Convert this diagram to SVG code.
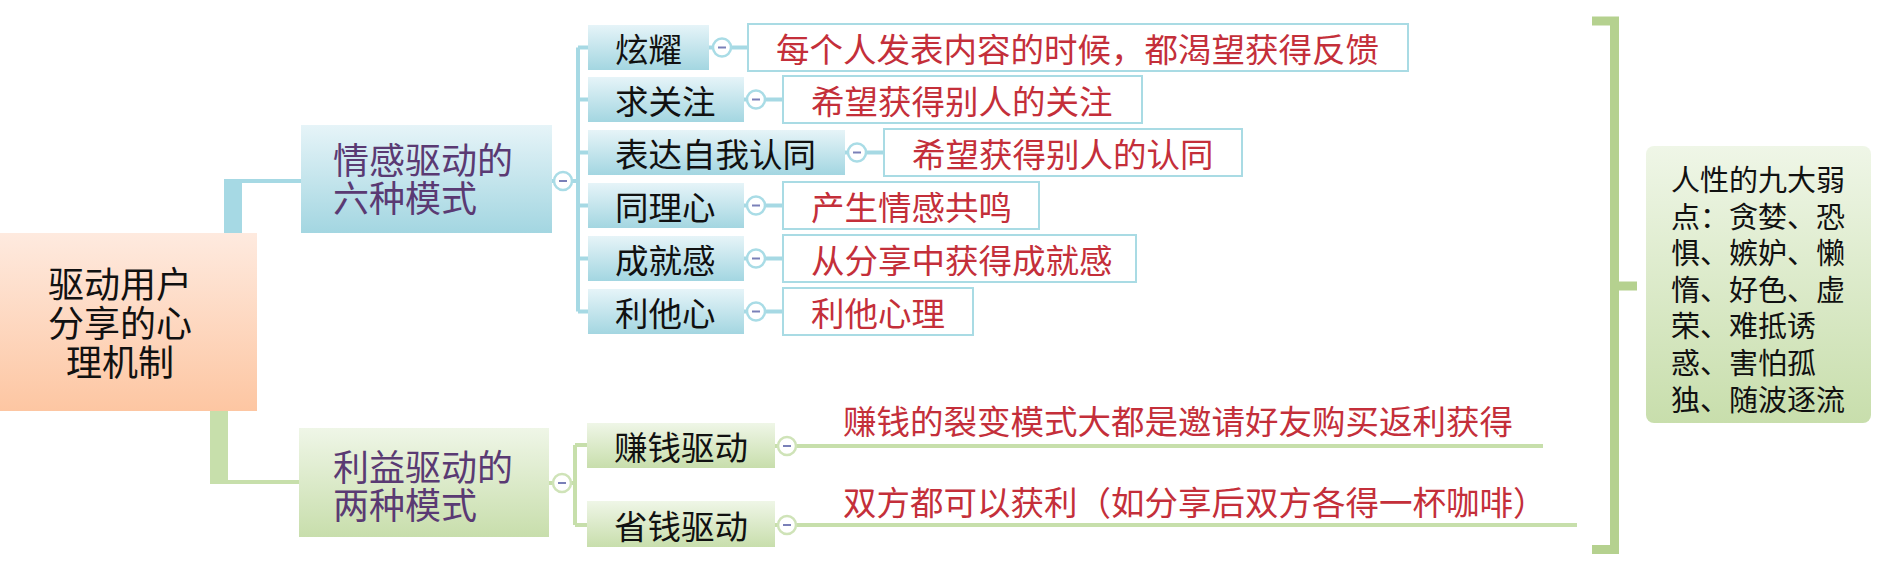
<svg xmlns="http://www.w3.org/2000/svg" width="1882" height="576" viewBox="0 0 1882 576">
<defs>
<linearGradient id="gRoot" x1="0" y1="0" x2="0" y2="1"><stop offset="0" stop-color="#feeadf"/><stop offset="1" stop-color="#fdc6a2"/></linearGradient>
<linearGradient id="gBlue" x1="0" y1="0" x2="0" y2="1"><stop offset="0" stop-color="#e6f4f8"/><stop offset="1" stop-color="#a3d6e1"/></linearGradient>
<linearGradient id="gGreen" x1="0" y1="0" x2="0" y2="1"><stop offset="0" stop-color="#eff6e7"/><stop offset="1" stop-color="#c8deac"/></linearGradient>
<style>
text{font-family:"Noto Sans CJK SC","Noto Sans CJK JP",sans-serif;dominant-baseline:central}
.root{font-size:36px;fill:#111;text-anchor:middle}
.main{font-size:36px;fill:#5a3a73}
.child{font-size:33.5px;fill:#111}
.desc{font-size:33.5px;fill:#c42f3a}
.side{font-size:29px;fill:#111}
.dbox{fill:#fff;stroke:#a9dbe4;stroke-width:2}
.bl{stroke:#a6d9e4;stroke-width:4;fill:none}
.gl{stroke:#c7dfab;stroke-width:4;fill:none}
.cb{fill:#fff;stroke:#a9dce6;stroke-width:2.5}
.cg{fill:#fff;stroke:#cfe3b8;stroke-width:2.5}
.mn{stroke:#7a80b8;stroke-width:2}
</style>
</defs>
<g id="connectors">
<rect x="224" y="179" width="18" height="54" fill="#a6d9e4"/>
<rect x="224" y="179" width="77" height="4" fill="#a6d9e4"/>
<rect x="210" y="411" width="18" height="73" fill="#c7dfab"/>
<rect x="210" y="480" width="89" height="4" fill="#c7dfab"/>
<path class="bl" d="M552,181H578M578,47.5V311.5M578,47.5H588M578,99.5H588M578,152.5H588M578,205.5H588M578,258.5H588M578,311.5H588"/>
<path class="bl" d="M709,47.5H748M744,99.5H783M845,152.5H884M744,205.5H783M744,258.5H783M744,311.5H783"/>
<path class="gl" d="M549,483H575M575,445V525M575,445H587M575,525H587"/>
<path class="gl" d="M775,446H1543M775,525H1577"/>
<path d="M1592,21H1614.5V549.5H1592M1614.5,286H1637" fill="none" stroke="#b5d18f" stroke-width="9"/>
</g>
<g id="n-root">
<rect x="0" y="233" width="257" height="178" fill="url(#gRoot)"/>
<text class="root" x="120" y="282"><tspan x="120" y="282">驱动用户</tspan><tspan x="120" y="321">分享的心</tspan><tspan x="120" y="360">理机制</tspan></text>
</g>
<g id="n-emotion">
<rect x="301" y="125" width="251" height="108" fill="url(#gBlue)"/>
<text class="main" x="333" y="158"><tspan x="333" y="158">情感驱动的</tspan><tspan x="333" y="196">六种模式</tspan></text>
<circle class="cb" cx="563" cy="181" r="9"/><line class="mn" x1="559" y1="181" x2="567" y2="181"/>
</g>
<g id="n-xuanyao">
<rect x="588" y="25" width="121" height="45" fill="url(#gBlue)"/>
<text class="child" x="615" y="47.5">炫耀</text>
<circle class="cb" cx="722" cy="47.5" r="9"/><line class="mn" x1="718" y1="47.5" x2="726" y2="47.5"/>
</g>
<g id="d-xuanyao">
<rect class="dbox" x="748" y="24" width="660" height="47"/>
<text class="desc" x="776" y="47.5">每个人发表内容的时候，都渴望获得反馈</text>
</g>
<g id="n-qiuguanzhu">
<rect x="588" y="77" width="156" height="45" fill="url(#gBlue)"/>
<text class="child" x="615" y="99.5">求关注</text>
<circle class="cb" cx="756" cy="99.5" r="9"/><line class="mn" x1="752" y1="99.5" x2="760" y2="99.5"/>
</g>
<g id="d-qiuguanzhu">
<rect class="dbox" x="783" y="76" width="359" height="47"/>
<text class="desc" x="811" y="99.5">希望获得别人的关注</text>
</g>
<g id="n-biaoda">
<rect x="588" y="130" width="257" height="45" fill="url(#gBlue)"/>
<text class="child" x="615" y="152.5">表达自我认同</text>
<circle class="cb" cx="857" cy="152.5" r="9"/><line class="mn" x1="853" y1="152.5" x2="861" y2="152.5"/>
</g>
<g id="d-biaoda">
<rect class="dbox" x="884" y="129" width="358" height="47"/>
<text class="desc" x="912" y="152.5">希望获得别人的认同</text>
</g>
<g id="n-tonglixin">
<rect x="588" y="183" width="156" height="45" fill="url(#gBlue)"/>
<text class="child" x="615" y="205.5">同理心</text>
<circle class="cb" cx="756" cy="205.5" r="9"/><line class="mn" x1="752" y1="205.5" x2="760" y2="205.5"/>
</g>
<g id="d-tonglixin">
<rect class="dbox" x="783" y="182" width="256" height="47"/>
<text class="desc" x="811" y="205.5">产生情感共鸣</text>
</g>
<g id="n-chengjiugan">
<rect x="588" y="236" width="156" height="45" fill="url(#gBlue)"/>
<text class="child" x="615" y="258.5">成就感</text>
<circle class="cb" cx="756" cy="258.5" r="9"/><line class="mn" x1="752" y1="258.5" x2="760" y2="258.5"/>
</g>
<g id="d-chengjiugan">
<rect class="dbox" x="783" y="235" width="353" height="47"/>
<text class="desc" x="811" y="258.5">从分享中获得成就感</text>
</g>
<g id="n-litaxin">
<rect x="588" y="289" width="156" height="45" fill="url(#gBlue)"/>
<text class="child" x="615" y="311.5">利他心</text>
<circle class="cb" cx="756" cy="311.5" r="9"/><line class="mn" x1="752" y1="311.5" x2="760" y2="311.5"/>
</g>
<g id="d-litaxin">
<rect class="dbox" x="783" y="288" width="190" height="47"/>
<text class="desc" x="811" y="311.5">利他心理</text>
</g>
<g id="n-benefit">
<rect x="299" y="428" width="250" height="109" fill="url(#gGreen)"/>
<text class="main" x="333" y="465"><tspan x="333" y="465">利益驱动的</tspan><tspan x="333" y="503">两种模式</tspan></text>
<circle class="cg" cx="562" cy="483" r="9"/><line class="mn" x1="558" y1="483" x2="566" y2="483"/>
</g>
<g id="n-zhuanqian">
<rect x="587" y="423" width="188" height="45" fill="url(#gGreen)"/>
<text class="child" x="614" y="445.5">赚钱驱动</text>
<circle class="cg" cx="787" cy="446" r="9"/><line class="mn" x1="783" y1="446" x2="791" y2="446"/>
<text class="desc" x="843" y="419">赚钱的裂变模式大都是邀请好友购买返利获得</text>
</g>
<g id="n-shengqian">
<rect x="587" y="501" width="188" height="46" fill="url(#gGreen)"/>
<text class="child" x="614" y="524">省钱驱动</text>
<circle class="cg" cx="787" cy="525" r="9"/><line class="mn" x1="783" y1="525" x2="791" y2="525"/>
<text class="desc" x="843" y="500">双方都可以获利（如分享后双方各得一杯咖啡）</text>
</g>
<g id="n-side">
<rect x="1646" y="146" width="225" height="277" rx="8" fill="url(#gGreen)"/>
<text class="side" x="1671" y="178"><tspan x="1671" y="178">人性的九大弱</tspan><tspan x="1671" y="214.6">点：贪婪、恐</tspan><tspan x="1671" y="251.2">惧、嫉妒、懒</tspan><tspan x="1671" y="287.8">惰、好色、虚</tspan><tspan x="1671" y="324.4">荣、难抵诱</tspan><tspan x="1671" y="361">惑、害怕孤</tspan><tspan x="1671" y="397.6">独、随波逐流</tspan></text>
</g>
</svg>
